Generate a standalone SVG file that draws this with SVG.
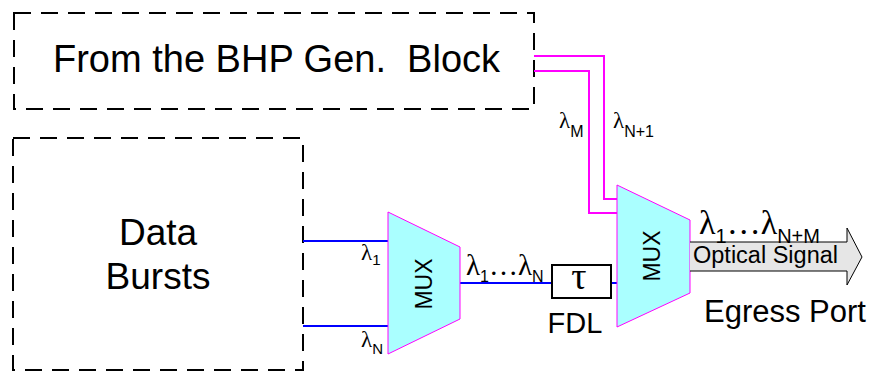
<svg xmlns="http://www.w3.org/2000/svg" width="871" height="372" viewBox="0 0 871 372">
<style>
.dash{fill:none;stroke:#000;stroke-width:2;stroke-dasharray:17 10}
.mux{fill:#AAFFFF;stroke:#FF00FF;stroke-width:1}
.blue{fill:none;stroke:#0000FF;stroke-width:2}
.mag{fill:none;stroke:#FF00FF;stroke-width:2}
.t{font-family:"Liberation Sans",Arial,sans-serif;fill:#000}
.g{font-family:"Liberation Serif","Times New Roman",serif;fill:#000}
</style>
<rect width="871" height="372" fill="#fff"/>
<g id="bhp">
<rect class="dash" x="14" y="13" width="520" height="96"/>
<text class="t" x="53" y="72" font-size="38" xml:space="preserve">From the BHP Gen.  Block</text>
</g>
<g id="data">
<rect class="dash" x="13" y="138" width="290" height="232"/>
<text class="t" x="158" y="245" font-size="37" text-anchor="middle">Data</text>
<text class="t" x="158" y="289" font-size="37" text-anchor="middle">Bursts</text>
</g>
<g id="connectors">
<polyline class="mag" points="534,56 604,56 604,199 617,199"/>
<polyline class="mag" points="534,71 589,71 589,213 617,213"/>
<line class="blue" x1="303" y1="241" x2="388" y2="241"/>
<line class="blue" x1="303" y1="326" x2="388" y2="326"/>
<line class="blue" x1="460" y1="283" x2="552" y2="283"/>
<line class="blue" x1="611" y1="283" x2="617" y2="283"/>
</g>
<g id="mux1">
<polygon class="mux" points="388,212 460,247 460,319 388,354"/>
<text class="t" font-size="23" text-anchor="middle" transform="translate(432,284) rotate(-90)">MUX</text>
</g>
<g id="mux2">
<polygon class="mux" points="617,185 690,220 690,293 617,327"/>
<text class="t" font-size="23" text-anchor="middle" transform="translate(660,256) rotate(-90)">MUX</text>
</g>
<g id="fdl">
<rect x="552" y="265" width="59" height="33" fill="#fff" stroke="#000" stroke-width="2"/>
<text class="g" x="579" y="289" font-size="38" text-anchor="middle">τ</text>
<text class="t" x="575" y="333" font-size="29" text-anchor="middle">FDL</text>
</g>
<g id="output">
<path d="M690,242 H847 V228 L862,257 L847,285 V271 H690" fill="#E6E6E6" stroke="#000" stroke-width="1"/>
<text class="t" x="693" y="263" font-size="23.5">Optical Signal</text>
<text class="t" x="704" y="322" font-size="31">Egress Port</text>
</g>
<g id="labels">
<text x="361" y="260"><tspan class="g" font-size="23">λ</tspan><tspan class="t" font-size="15" dy="5">1</tspan></text>
<text x="361" y="347"><tspan class="g" font-size="23">λ</tspan><tspan class="t" font-size="15" dy="7">N</tspan></text>
<text x="559" y="128"><tspan class="g" font-size="23">λ</tspan><tspan class="t" font-size="16" dy="9">M</tspan></text>
<text x="613" y="128"><tspan class="g" font-size="23">λ</tspan><tspan class="t" font-size="16" dy="9">N+1</tspan></text>
<text x="466" y="275"><tspan class="g" font-size="29">λ</tspan><tspan class="t" font-size="16" dy="7">1</tspan><tspan class="g" font-size="29" dy="-7">…λ</tspan><tspan class="t" font-size="16" dy="7">N</tspan></text>
<text x="699" y="234"><tspan class="g" font-size="34">λ</tspan><tspan class="t" font-size="20" dy="9">1</tspan><tspan class="g" font-size="34" dy="-9">…λ</tspan><tspan class="t" font-size="20" dy="9">N+M</tspan></text>
</g>
</svg>
